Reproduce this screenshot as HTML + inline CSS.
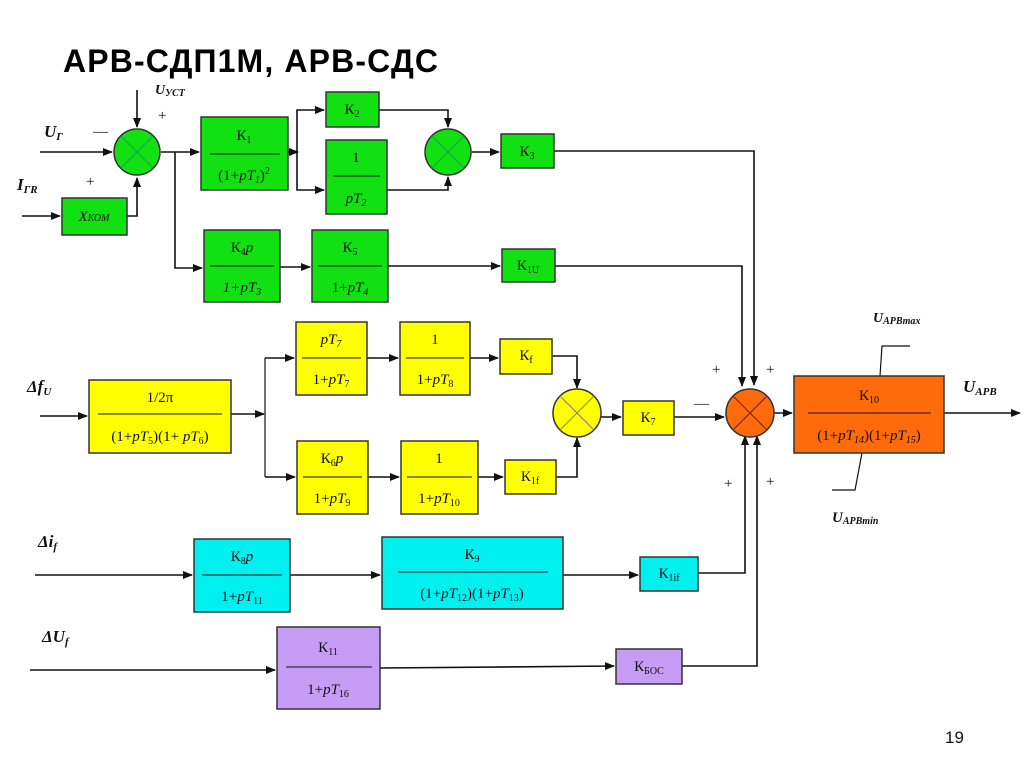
<!DOCTYPE html>
<html><head><meta charset="utf-8"><style>
html,body{margin:0;padding:0;background:#fff;}
svg{display:block;}
text{font-family:"Liberation Serif",serif;font-size:15px;fill:#111;}
.t{font-family:"Liberation Sans",sans-serif;font-weight:bold;font-size:32px;fill:#000;}
.lb{font-weight:bold;font-style:italic;font-size:17px;}
.b{stroke:#333;stroke-width:1.5;}
.g{fill:#11e011;}.y{fill:#ffff00;}.c{fill:#00f0f0;}.p{fill:#c79cf5;}.o{fill:#ff6a0a;}
line,polyline{stroke:#111;stroke-width:1.6;fill:none;}
</style></head><body>
<svg width="1024" height="767" viewBox="0 0 1024 767" xmlns="http://www.w3.org/2000/svg">
<defs><marker id="a" markerWidth="10" markerHeight="8" refX="9" refY="4" orient="auto" markerUnits="userSpaceOnUse"><path d="M0,0 L10,4 L0,8z" fill="#111"/></marker></defs>
<text x="63" y="72" class="t" textLength="375">АРВ-СДП1М, АРВ-СДС</text>
<text x="945" y="743" style="font-family:'Liberation Sans',sans-serif;font-size:17px">19</text>

<!-- labels -->
<text x="155" y="94" class="lb" style="font-size:14px">U<tspan font-size="10" dy="2">УСТ</tspan></text>
<text x="158" y="120" font-size="18">+</text>
<text x="44" y="137" class="lb">U<tspan font-size="11" dy="3">Г</tspan></text>
<text x="93" y="136" font-size="18">—</text>
<text x="86" y="186" font-size="20">+</text>
<text x="17" y="190" class="lb">I<tspan font-size="11" dy="3">ГR</tspan></text>
<text x="27" y="392" class="lb">Δf<tspan font-size="11" dy="3">U</tspan></text>
<text x="38" y="547" class="lb">Δi<tspan font-size="11" dy="3">f</tspan></text>
<text x="42" y="642" class="lb">ΔU<tspan font-size="11" dy="3">f</tspan></text>
<text x="712" y="374" font-size="18">+</text>
<text x="766" y="374" font-size="18">+</text>
<text x="694" y="408" font-size="18">—</text>
<text x="724" y="488" font-size="18">+</text>
<text x="766" y="486" font-size="18">+</text>
<text x="873" y="322" class="lb" style="font-size:14px">U<tspan font-size="10" dy="2">APBmax</tspan></text>
<text x="963" y="392" class="lb">U<tspan font-size="11" dy="3">APB</tspan></text>
<text x="832" y="522" class="lb" style="font-size:15px">U<tspan font-size="10" dy="2">APBmin</tspan></text>

<!-- connectors -->
<line x1="137" y1="90" x2="137" y2="127" marker-end="url(#a)"/>
<line x1="40" y1="152" x2="112" y2="152" marker-end="url(#a)"/>
<line x1="22" y1="216" x2="60" y2="216" marker-end="url(#a)"/>
<polyline points="127,216 137,216 137,178" marker-end="url(#a)"/>
<line x1="161" y1="152" x2="199" y2="152" marker-end="url(#a)"/>
<polyline points="175,152 175,268 202,268" marker-end="url(#a)"/>
<line x1="288" y1="152" x2="298" y2="152" marker-end="url(#a)"/>
<polyline points="297,152 297,110 324,110" marker-end="url(#a)"/>
<polyline points="297,152 297,190 324,190" marker-end="url(#a)"/>
<polyline points="379,110 448,110 448,127" marker-end="url(#a)"/>
<polyline points="387,190 448,190 448,177" marker-end="url(#a)"/>
<line x1="472" y1="152" x2="499" y2="152" marker-end="url(#a)"/>
<polyline points="554,151 754,151 754,385" marker-end="url(#a)"/>
<line x1="280" y1="267" x2="310" y2="267" marker-end="url(#a)"/>
<line x1="388" y1="266" x2="500" y2="266" marker-end="url(#a)"/>
<polyline points="555,266 742,266 742,386" marker-end="url(#a)"/>
<line x1="40" y1="416" x2="87" y2="416" marker-end="url(#a)"/>
<line x1="231" y1="414" x2="264" y2="414" marker-end="url(#a)"/>
<polyline points="265,358 265,477" style="stroke-width:1.2"/>
<line x1="265" y1="358" x2="294" y2="358" marker-end="url(#a)"/>
<line x1="265" y1="477" x2="295" y2="477" marker-end="url(#a)"/>
<line x1="367" y1="358" x2="398" y2="358" marker-end="url(#a)"/>
<line x1="470" y1="358" x2="498" y2="358" marker-end="url(#a)"/>
<polyline points="552,356 577,356 577,388" marker-end="url(#a)"/>
<line x1="368" y1="477" x2="399" y2="477" marker-end="url(#a)"/>
<line x1="478" y1="477" x2="503" y2="477" marker-end="url(#a)"/>
<polyline points="556,477 577,477 577,438" marker-end="url(#a)"/>
<line x1="601" y1="417" x2="621" y2="417" marker-end="url(#a)"/>
<line x1="674" y1="417" x2="724" y2="417" marker-end="url(#a)"/>
<line x1="774" y1="413" x2="792" y2="413" marker-end="url(#a)"/>
<line x1="944" y1="413" x2="1020" y2="413" marker-end="url(#a)"/>
<polyline points="910,346 882,346 880,376" style="stroke-width:1.2"/>
<polyline points="862,453 855,490 832,490" style="stroke-width:1.2"/>
<line x1="35" y1="575" x2="192" y2="575" marker-end="url(#a)"/>
<line x1="290" y1="575" x2="380" y2="575" marker-end="url(#a)"/>
<line x1="563" y1="575" x2="638" y2="575" marker-end="url(#a)"/>
<polyline points="698,573 745,573 745,436" marker-end="url(#a)"/>
<line x1="30" y1="670" x2="275" y2="670" marker-end="url(#a)"/>
<line x1="380" y1="668" x2="614" y2="666" marker-end="url(#a)"/>
<polyline points="682,666 757,666 757,436" marker-end="url(#a)"/>

<!-- green -->
<circle cx="137" cy="152" r="23" class="g b"/><path d="M121,136 L153,168 M153,136 L121,168" stroke="#1a5" stroke-width="1.2"/>
<rect x="62" y="198" width="65" height="37" class="g b"/><text x="94" y="221" text-anchor="middle" font-style="italic" font-size="13">X<tspan font-size="10">КОМ</tspan></text>
<rect x="201" y="117" width="87" height="73" class="g b"/><line x1="210" y1="154" x2="280" y2="154" style="stroke-width:1"/>
<text x="244" y="140" text-anchor="middle">К<tspan font-size="10" dy="3">1</tspan></text>
<text x="244" y="180" text-anchor="middle">(1+<tspan font-style="italic">pT</tspan><tspan font-size="10" dy="3" font-style="italic">1</tspan><tspan dy="-3">)</tspan><tspan font-size="10" dy="-6">2</tspan></text>
<rect x="326" y="92" width="53" height="35" class="g b"/><text x="352" y="114" text-anchor="middle">К<tspan font-size="10" dy="3">2</tspan></text>
<rect x="326" y="140" width="61" height="74" class="g b"/><line x1="333" y1="176" x2="380" y2="176" style="stroke-width:1"/>
<text x="356" y="162" text-anchor="middle">1</text><text x="356" y="203" text-anchor="middle" font-style="italic">pT<tspan font-size="10" dy="3">2</tspan></text>
<circle cx="448" cy="152" r="23" class="g b"/><path d="M432,136 L464,168 M464,136 L432,168" stroke="#1a5" stroke-width="1.2"/>
<rect x="501" y="134" width="53" height="34" class="g b"/><text x="527" y="156" text-anchor="middle">К<tspan font-size="10" dy="3">3</tspan></text>
<rect x="204" y="230" width="76" height="72" class="g b"/><line x1="210" y1="266" x2="274" y2="266" style="stroke-width:1"/>
<text x="242" y="252" text-anchor="middle">К<tspan font-size="10" dy="3">4</tspan><tspan dy="-3" font-style="italic">p</tspan></text>
<text x="242" y="292" text-anchor="middle" font-style="italic">1+pT<tspan font-size="10" dy="3">3</tspan></text>
<rect x="312" y="230" width="76" height="72" class="g b"/><line x1="318" y1="266" x2="382" y2="266" style="stroke-width:1"/>
<text x="350" y="252" text-anchor="middle">К<tspan font-size="10" dy="3">5</tspan></text>
<text x="350" y="292" text-anchor="middle">1+<tspan font-style="italic">pT</tspan><tspan font-size="10" dy="3" font-style="italic">4</tspan></text>
<rect x="502" y="249" width="53" height="33" class="g b"/><text x="528" y="270" text-anchor="middle">К<tspan font-size="10" dy="3">1U</tspan></text>

<!-- yellow -->
<rect x="89" y="380" width="142" height="73" class="y b"/><line x1="98" y1="414" x2="222" y2="414" style="stroke-width:1"/>
<text x="160" y="402" text-anchor="middle">1/2π</text>
<text x="160" y="441" text-anchor="middle">(1+<tspan font-style="italic">pT</tspan><tspan font-size="10" dy="3">5</tspan><tspan dy="-3">)(1+ </tspan><tspan font-style="italic">pT</tspan><tspan font-size="10" dy="3">6</tspan><tspan dy="-3">)</tspan></text>
<rect x="296" y="322" width="71" height="73" class="y b"/><line x1="302" y1="358" x2="361" y2="358" style="stroke-width:1"/>
<text x="331" y="344" text-anchor="middle" font-style="italic">pT<tspan font-size="10" dy="3">7</tspan></text>
<text x="331" y="384" text-anchor="middle">1+<tspan font-style="italic">pT</tspan><tspan font-size="10" dy="3">7</tspan></text>
<rect x="400" y="322" width="70" height="73" class="y b"/><line x1="406" y1="358" x2="464" y2="358" style="stroke-width:1"/>
<text x="435" y="344" text-anchor="middle">1</text>
<text x="435" y="384" text-anchor="middle">1+<tspan font-style="italic">pT</tspan><tspan font-size="10" dy="3">8</tspan></text>
<rect x="500" y="339" width="52" height="35" class="y b"/><text x="526" y="360" text-anchor="middle">К<tspan font-size="10" dy="3">f</tspan></text>
<circle cx="577" cy="413" r="24" class="y b"/><path d="M560,396 L594,430 M594,396 L560,430" stroke="#886" stroke-width="1.2"/>
<rect x="623" y="401" width="51" height="34" class="y b"/><text x="648" y="422" text-anchor="middle">К<tspan font-size="10" dy="3">7</tspan></text>
<rect x="297" y="441" width="71" height="73" class="y b"/><line x1="303" y1="477" x2="362" y2="477" style="stroke-width:1"/>
<text x="332" y="463" text-anchor="middle">К<tspan font-size="10" dy="3">6</tspan><tspan dy="-3" font-style="italic">p</tspan></text>
<text x="332" y="503" text-anchor="middle">1+<tspan font-style="italic">pT</tspan><tspan font-size="10" dy="3">9</tspan></text>
<rect x="401" y="441" width="77" height="73" class="y b"/><line x1="407" y1="477" x2="472" y2="477" style="stroke-width:1"/>
<text x="439" y="463" text-anchor="middle">1</text>
<text x="439" y="503" text-anchor="middle">1+<tspan font-style="italic">pT</tspan><tspan font-size="10" dy="3">10</tspan></text>
<rect x="505" y="460" width="51" height="34" class="y b"/><text x="530" y="481" text-anchor="middle">К<tspan font-size="10" dy="3">1f</tspan></text>

<!-- orange -->
<circle cx="750" cy="413" r="24" class="o b"/><path d="M733,396 L767,430 M767,396 L733,430" stroke="#823" stroke-width="1.2"/>
<rect x="794" y="376" width="150" height="77" class="o b"/><line x1="808" y1="413" x2="931" y2="413" style="stroke-width:1"/>
<text x="869" y="400" text-anchor="middle">К<tspan font-size="10" dy="3">10</tspan></text>
<text x="869" y="440" text-anchor="middle">(1+<tspan font-style="italic">pT</tspan><tspan font-size="10" dy="3" font-style="italic">14</tspan><tspan dy="-3">)(1+</tspan><tspan font-style="italic">pT</tspan><tspan font-size="10" dy="3" font-style="italic">15</tspan><tspan dy="-3">)</tspan></text>

<!-- cyan -->
<rect x="194" y="539" width="96" height="73" class="c b"/><line x1="202" y1="575" x2="282" y2="575" style="stroke-width:1"/>
<text x="242" y="561" text-anchor="middle">К<tspan font-size="10" dy="3">8</tspan><tspan dy="-3" font-style="italic">p</tspan></text>
<text x="242" y="601" text-anchor="middle">1+<tspan font-style="italic">pT</tspan><tspan font-size="10" dy="3">11</tspan></text>
<rect x="382" y="537" width="181" height="72" class="c b"/><line x1="398" y1="572" x2="548" y2="572" style="stroke-width:1"/>
<text x="472" y="559" text-anchor="middle">К<tspan font-size="10" dy="3">9</tspan></text>
<text x="472" y="598" text-anchor="middle">(1+<tspan font-style="italic">pT</tspan><tspan font-size="10" dy="3">12</tspan><tspan dy="-3">)(1+</tspan><tspan font-style="italic">pT</tspan><tspan font-size="10" dy="3">13</tspan><tspan dy="-3">)</tspan></text>
<rect x="640" y="557" width="58" height="34" class="c b"/><text x="669" y="578" text-anchor="middle">К<tspan font-size="10" dy="3">1if</tspan></text>

<!-- purple -->
<rect x="277" y="627" width="103" height="82" class="p b"/><line x1="286" y1="667" x2="372" y2="667" style="stroke-width:1"/>
<text x="328" y="652" text-anchor="middle">К<tspan font-size="10" dy="3">11</tspan></text>
<text x="328" y="694" text-anchor="middle">1+<tspan font-style="italic">pT</tspan><tspan font-size="10" dy="3">16</tspan></text>
<rect x="616" y="649" width="66" height="35" class="p b"/><text x="649" y="671" text-anchor="middle">К<tspan font-size="10" dy="3">БОС</tspan></text>
</svg>
</body></html>
